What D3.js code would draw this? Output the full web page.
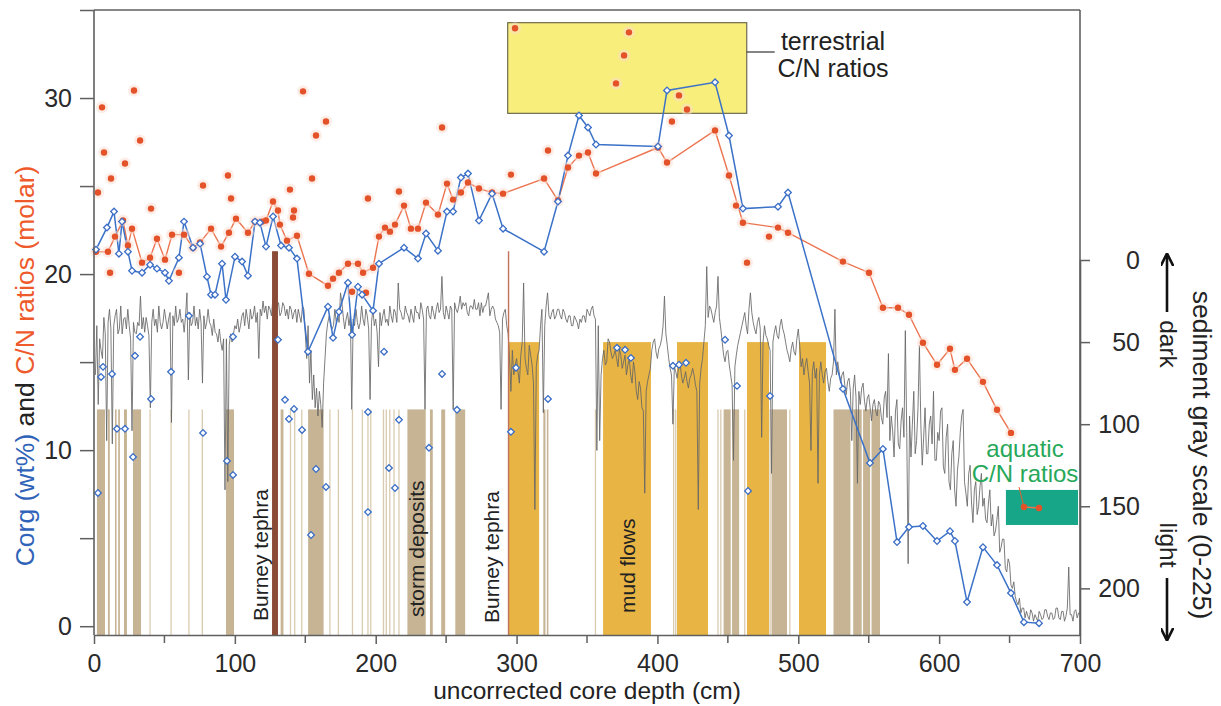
<!DOCTYPE html>
<html><head><meta charset="utf-8">
<script src="https://cdn.jsdelivr.net/npm/d3@7"></script>
<style>
body{margin:0;background:#fff}
svg{display:block}
text{font-family:"Liberation Sans",Arial,Helvetica,sans-serif}
</style>
</head><body>
<svg id="chart" width="1221" height="706"></svg>
<script>
// ---------------- DATA ----------------
const xTickValues = [0,100,200,300,400,500,600,700];
const xMinorTicks = [50,150,250,350,450,550,650];
const leftTickValues = [0,5,10,15,20,25,30,35];
const leftTickLabels = {0:"0",10:"10",20:"20",30:"30"};
const rightTickValues = [0,50,100,150,200];

// C/N ratios (molar), connected series [depth cm, value]
const cnLine = [[1.4,21.27],[9.9,21.27],[14.9,22.13],[20.6,23.04],[24.1,21.62],[27.0,22.58],[34.1,20.65],[39.8,20.93],[44.7,22.01],[50.4,20.82],[55.4,22.24],[63.9,22.24],[70.3,21.5],[75.3,21.79],[83.1,22.58],[90.2,21.56],[95.8,22.35],[100.8,23.15],[109.3,22.35],[114.3,22.98],[119.3,22.98],[122.1,23.04],[127.1,24.12],[130.6,23.61],[132.0,22.81],[137.0,21.9],[144.1,22.18],[152.6,20.02],[166.1,19.34],[169.7,19.74],[173.9,20.08],[180.3,20.59],[187.4,20.59],[191.0,20.08],[198.1,20.36],[202.3,22.13],[206.6,22.64],[210.1,22.41],[213.7,22.81],[220.1,23.89],[225.0,22.58],[230.0,22.58],[235.7,24.06],[244.2,23.38],[250.6,25.14],[254.9,24.23],[260.5,24.63],[265.5,25.2],[273.3,24.86],[282.6,24.63],[290.4,24.57],[319.5,25.43],[329.4,24.18],[336.5,26.05],[344.3,26.73],[350.7,26.91],[356.4,25.71],[400.4,27.19],[406.8,26.34],[440.9,28.16],[450.8,25.6],[460.7,22.92],[485.6,22.64],[492.7,22.35],[531.7,20.71],[550.2,20.08],[560.1,18.09],[570.8,18.09],[578.6,17.69],[588.5,16.1],[598.5,14.85],[607.7,15.76],[611.2,14.56],[619.8,15.19],[631.1,13.88],[641.1,12.29],[651.0,10.98]];
// C/N ratios, isolated samples
const cnScatter = [[2.8,24.63],[5.7,29.47],[7.1,26.91],[12.1,25.43],[11.4,20.08],[22.0,26.28],[28.4,30.43],[32.7,27.59],[40.5,23.72],[60.3,20.08],[77.4,25.03],[95.1,25.6],[97.3,24.29],[139.1,24.8],[142.0,23.61],[148.4,30.38],[157.6,27.87],[164.7,28.67],[154.8,25.43],[141.3,23.21],[183.2,19.0],[193.1,18.94],[194.5,24.29],[216.5,24.69],[247.1,28.33],[296.0,25.65],[322.3,27.02],[298.9,33.96],[379.8,33.73],[376.3,32.42],[370.6,30.83],[415.3,30.15],[421.0,29.35],[410.3,28.67],[455.8,23.89],[479.2,22.13],[463.6,20.65]];
// aquatic reference C/N samples
const cnAquatic = [[660.2,6.77],[670.9,6.71]];

// Corg (wt%), connected series
const corgLine = [[1.4,21.39],[9.2,22.64],[14.2,23.55],[17.7,21.16],[19.9,22.98],[24.1,21.27],[27.0,20.19],[34.1,20.08],[39.8,20.53],[44.7,20.31],[50.4,20.08],[53.2,19.62],[60.3,20.93],[63.9,22.98],[70.3,21.5],[75.3,21.73],[80.2,19.85],[83.1,18.83],[85.9,18.83],[90.9,20.59],[93.7,18.54],[100.1,20.99],[105.1,20.71],[109.3,19.91],[114.3,22.98],[117.8,22.92],[122.1,21.56],[127.1,23.27],[132.8,21.62],[138.4,21.5],[144.1,20.88],[151.9,15.59],[166.1,18.15],[169.7,16.38],[173.9,17.86],[180.3,19.51],[183.2,16.55],[187.4,19.28],[190.3,18.83],[198.1,17.92],[202.3,20.59],[220.1,21.5],[230.0,20.88],[235.7,22.3],[244.2,21.33],[250.6,23.55],[254.9,23.55],[260.5,25.48],[265.5,25.71],[273.3,23.04],[282.6,24.57],[290.4,22.58],[319.5,21.27],[329.4,24.12],[336.5,26.73],[344.3,29.01],[350.7,28.33],[356.4,27.36],[400.4,27.25],[406.8,30.43],[440.9,30.89],[450.8,27.87],[460.7,23.72],[485.6,23.83],[492.7,24.63],[531.7,13.48],[550.9,9.27],[560.1,10.07],[570.1,4.78],[578.6,5.63],[588.5,5.69],[598.5,4.84],[607.7,5.4],[611.2,4.84],[619.8,1.37],[631.1,4.49],[641.1,3.47],[651.0,1.88],[660.2,0.23],[670.9,0.17]];
// Corg, isolated samples
const corgScatter = [[2.8,7.57],[5.0,14.16],[6.4,14.73],[12.8,14.33],[16.3,11.21],[22.0,11.21],[27.7,9.61],[29.1,15.36],[32.7,16.44],[40.5,12.91],[54.7,14.45],[67.4,17.63],[77.4,10.98],[94.4,9.39],[98.7,8.59],[98.7,16.44],[130.6,16.27],[135.6,12.86],[138.4,11.77],[142.0,12.34],[147.7,11.15],[154.1,5.18],[157.6,8.93],[164.7,7.91],[194.5,12.17],[194.5,6.48],[205.9,15.59],[209.4,8.99],[213.7,7.85],[216.5,11.72],[237.8,10.13],[247.1,14.33],[257.7,12.29],[296.0,11.04],[299.6,14.68],[322.3,12.91],[371.3,15.81],[377.0,15.7],[381.2,15.24],[411.0,14.79],[415.3,14.85],[420.3,14.96],[448.0,16.27],[456.5,13.65],[464.3,7.68],[479.9,13.08]];

// sediment gray scale (0-225), one reading per cm starting at 1 cm
const grayFirstDepth = 1, grayStepCm = 1;
const grayScale = [
70,40,88,48,55,60,35,45,110,38, 30,42,112,40,34,30,45,42,28,45, 36,35,42,30,40,48,104,38,44,45,
38,40,22,42,35,44,35,40,46,90, 38,30,40,36,44,28,38,42,38,30, 36,42,36,32,99,34,40,28,38,36,
30,38,36,44,34,20,73,32,40,38, 28,40,35,42,30,38,75,34,42,38, 30,38,40,46,36,44,45,50,42,50,
55,48,140,48,135,52,45,50,45,40, 42,36,44,40,34,32,40,30,36,42, 30,36,34,28,38,32,60,30,34,25,
32,28,36,28,30,34,24,30,32,28, 26,34,32,26,28,34,30,36,28,30, 36,32,30,38,30,34,38,28,30,45,
60,40,75,55,85,70,90,78,95,80, 88,102,75,60,45,38,34,40,42,40, 30,38,34,38,20,26,35,42,36,32,
40,34,91,36,40,30,38,42,38,28, 36,40,30,34,42,85,38,30,40,36, 44,65,32,40,34,30,38,36,40,28,
34,38,30,32,38,14,30,32,36,36, 28,32,34,38,30,34,38,28,32,32, 36,26,30,36,91,30,28,34,36,28,
32,36,30,26,32,30,10,32,36,28, 32,36,28,30,91,26,30,32,28,22, 30,26,28,26,32,34,28,28,30,24,
30,30,26,34,26,32,28,28,24,20, 34,30,28,30,36,38,40,44,91,36, 32,30,40,45,60,80,55,70,64,60,
68,75,58,50,14,60,66,70,52,58, 64,75,152,65,58,55,40,30,93,40, 28,20,34,36,32,30,36,34,30,30,
34,36,30,32,36,38,34,34,40,40, 34,36,38,42,36,38,34,34,38,30, 32,34,30,28,34,36,116,40,110,70,
60,55,64,62,48,50,56,60,58,55, 60,65,54,58,66,62,58,70,64,60, 70,75,62,68,80,85,74,78,90,92,
142,80,74,70,66,55,50,48,56,60, 54,52,48,40,22,45,52,60,66,70, 100,65,68,72,66,62,70,75,72,68,
74,78,72,70,66,70,76,80,152,75, 66,60,50,40,4,35,28,30,34,38, 32,28,10,35,42,50,58,62,56,55,
64,70,76,122,65,58,52,48,44,40, 36,32,40,45,30,20,32,38,42,45, 38,35,42,108,50,40,46,48,52,55,
130,50,44,40,46,48,40,36,42,45, 50,55,58,62,54,50,56,58,48,42, 52,65,60,70,64,60,68,75,116,68,
62,72,66,136,70,62,70,75,68,66, 74,80,72,70,62,30,70,62,68,75, 70,68,76,82,74,72,80,110,78,70,
84,136,80,88,78,75,86,92,84,82, 90,98,88,85,92,95,86,88,96,100, 84,80,96,57,110,95,104,120,92,85,
112,115,98,90,108,43,105,185,95,120, 100,80,118,110,90,52,100,125,108,90, 118,118,100,95,112,80,122,122,105,110,
92,90,126,130,108,100,135,140,118,110, 140,150,128,120,105,95,91,135,142,150, 130,125,148,160,140,135,155,150,138,130,
150,145,158,160,148,140,162,155,168,165, 158,150,178,175,170,170,188,190,182,185, 198,200,196,205,208,210,206,215,212,212,
218,214,217,219,213,215,220,216,218,220, 214,216,219,218,213,213,217,219,215,215, 219,218,212,212,218,219,214,214,220,217,
212,187,216,216,220,214,213,218,215,215];

// storm deposits (depth intervals, cm)
const stormBands = [[2.1,7.8],[9.9,11.2],[14.9,16.0],[17.2,18.4],[21.3,23.4],[27.7,33.4],[93.7,99.4],[132.5,134.5],[152,163],[222.5,235.5],[238.5,240.5],[246.5,249.3],[256.5,263.5],[319,320.5],[321.5,322.6],[447,452],[453,458],[481,492],[525,537],[539,545],[546,551],[552,558]];
const stormLines = [39.8,54.7,67.4,76.9,139.5,142.5,147.5,167.5,173.5,183.5,190.5,194.5,196.5,205.5,207.5,210,213,216.5,356,411.5,413,443,445,462,480,494];
// mud flows (depth intervals, cm)
const mudFlows = [[294,316],[361.4,395.4],[413.9,435.9],[463.6,479.2],[500.5,519.7]];
// Burney tephra layers
const tephra = [[126.4,130.6],[293.8,294.8]];
const tephraTop = 21.3;
const mudTop = 50, stormTop = 91;
// reference ranges
const terrestrialBox = {x0:293.7,x1:463.4,y0:29.13,y1:34.28};
const aquaticBox = {x0:647.4,x1:698.6,y0:5.75,y1:7.74};

// ---------------- DRAWING ----------------
const svg = d3.select("#chart");
const x = d3.scaleLinear().domain([0,700]).range([94,1080]);
const yL = d3.scaleLinear().domain([-0.5,35]).range([635,10]);
const yR = d3.scaleLinear().domain([0,228.4]).range([260,635]);

const gBands = svg.append("g");
gBands.selectAll("line.sl").data(stormLines).join("line")
  .attr("x1",d=>x(d)).attr("x2",d=>x(d)).attr("y1",yR(stormTop)).attr("y2",yR(228.4))
  .attr("stroke","#d9cbb0").attr("stroke-width",1.3);
gBands.selectAll("rect.sb").data(stormBands).join("rect")
  .attr("x",d=>x(d[0])).attr("width",d=>x(d[1])-x(d[0]))
  .attr("y",yR(stormTop)).attr("height",yR(228.4)-yR(stormTop))
  .attr("fill","#c6b494");
gBands.selectAll("rect.mf").data(mudFlows).join("rect")
  .attr("x",d=>x(d[0])).attr("width",d=>x(d[1])-x(d[0]))
  .attr("y",yR(mudTop)).attr("height",yR(228.4)-yR(mudTop))
  .attr("fill","#e8b444");

// gray scale trace
svg.append("path").datum(grayScale)
  .attr("d",d3.line().x((d,i)=>x(grayFirstDepth+i*grayStepCm)).y(d=>yR(d)))
  .attr("fill","none").attr("stroke","#666").attr("stroke-width",0.85);

// tephra
svg.append("rect").attr("x",x(tephra[0][0])).attr("width",x(tephra[0][1])-x(tephra[0][0]))
  .attr("y",yL(tephraTop)).attr("height",yL(-0.5)-yL(tephraTop)).attr("fill","#8a4a36");
svg.append("rect").attr("x",x(tephra[1][0])).attr("width",x(tephra[1][1])-x(tephra[1][0]))
  .attr("y",yL(tephraTop)).attr("height",yL(-0.5)-yL(tephraTop)).attr("fill","#c0735a");

// band labels
function vlabel(px,py,txt){
  svg.append("text").attr("transform",`translate(${px},${py}) rotate(-90)`)
    .attr("font-size",21).attr("fill","#222").text(txt);
}
vlabel(268,621,"Burney tephra");
vlabel(424,617,"storm deposits");
vlabel(499,623,"Burney tephra");
vlabel(635,613,"mud flows");

// reference boxes
svg.append("rect").attr("x",x(terrestrialBox.x0)).attr("width",x(terrestrialBox.x1)-x(terrestrialBox.x0))
  .attr("y",yL(terrestrialBox.y1)).attr("height",yL(terrestrialBox.y0)-yL(terrestrialBox.y1))
  .attr("fill","#f8ee7c").attr("stroke","#6e6a4c").attr("stroke-width",1.2);
svg.append("rect").attr("x",x(aquaticBox.x0)).attr("width",x(aquaticBox.x1)-x(aquaticBox.x0))
  .attr("y",yL(aquaticBox.y1)).attr("height",yL(aquaticBox.y0)-yL(aquaticBox.y1))
  .attr("fill","#17a688");

// annotations
svg.append("line").attr("x1",x(terrestrialBox.x1)).attr("x2",x(terrestrialBox.x1)+28)
  .attr("y1",52).attr("y2",52).attr("stroke","#333").attr("stroke-width",1.2);
svg.append("text").attr("x",833).attr("y",50).attr("text-anchor","middle").attr("font-size",25).attr("fill","#222").text("terrestrial");
svg.append("text").attr("x",833).attr("y",77).attr("text-anchor","middle").attr("font-size",25).attr("fill","#222").text("C/N ratios");
svg.append("text").attr("x",1025).attr("y",457).attr("text-anchor","middle").attr("font-size",24).attr("fill","#27a85a").text("aquatic");
svg.append("text").attr("x",1025).attr("y",482).attr("text-anchor","middle").attr("font-size",24).attr("fill","#27a85a").text("C/N ratios");
svg.append("line").attr("x1",1019).attr("y1",487).attr("x2",x(cnAquatic[0][0])).attr("y2",yL(cnAquatic[0][1]))
  .attr("stroke","#e8602f").attr("stroke-width",1);

// series lines
const lineGen = d3.line().x(d=>x(d[0])).y(d=>yL(d[1]));
svg.append("path").datum(cnLine).attr("d",lineGen).attr("fill","none").attr("stroke","#ec7450").attr("stroke-width",1.4);
svg.append("path").datum(cnAquatic).attr("d",lineGen).attr("fill","none").attr("stroke","#ec7450").attr("stroke-width",1.4);
svg.append("path").datum(corgLine).attr("d",lineGen).attr("fill","none").attr("stroke","#3b72c8").attr("stroke-width",1.5);

// orange markers
const cnMain = cnLine.concat(cnScatter);
svg.append("g").selectAll("circle").data(cnMain).join("circle")
  .attr("cx",d=>x(d[0])).attr("cy",d=>yL(d[1])).attr("r",6).attr("fill","#fbdcd0").attr("opacity",0.5);
svg.append("g").selectAll("circle").data(cnMain.concat(cnAquatic)).join("circle")
  .attr("cx",d=>x(d[0])).attr("cy",d=>yL(d[1])).attr("r",3.2).attr("fill","#e4522a");

// blue open diamonds
const diamond = d3.symbol().type(d3.symbolSquare).size(22);
const corgAll = corgLine.concat(corgScatter);
svg.append("g").selectAll("path").data(corgAll).join("path")
  .attr("transform",d=>`translate(${x(d[0])},${yL(d[1])}) rotate(45)`).attr("d",diamond)
  .attr("fill","#fff").attr("stroke","#3b6ec6").attr("stroke-width",1.3);

// ---------------- AXES ----------------
const axisColor = "#5f5f5f";
svg.append("line").attr("x1",x(0)).attr("x2",x(700)).attr("y1",10).attr("y2",10).attr("stroke",axisColor).attr("stroke-width",1.6);

const axL = svg.append("g").attr("transform",`translate(${x(0)},0)`)
  .call(d3.axisLeft(yL).tickValues(leftTickValues).tickSize(14).tickSizeOuter(0).tickPadding(8)
    .tickFormat(d=>leftTickLabels[d]||""));
const axB = svg.append("g").attr("transform",`translate(0,${yL(-0.5)})`)
  .call(d3.axisBottom(x).tickValues(xTickValues).tickSize(9).tickSizeOuter(0).tickPadding(10).tickFormat(d3.format("d")));
svg.append("g").attr("transform",`translate(0,${yL(-0.5)})`)
  .selectAll("line").data(xMinorTicks).join("line")
  .attr("x1",d=>x(d)).attr("x2",d=>x(d)).attr("y1",0).attr("y2",8).attr("stroke",axisColor).attr("stroke-width",1.5);
const axR = svg.append("g").attr("transform",`translate(${x(700)},0)`)
  .call(d3.axisRight(yR).tickValues(rightTickValues).tickSize(10).tickSizeOuter(0).tickPadding(50));
svg.append("line").attr("x1",x(700)).attr("x2",x(700)).attr("y1",10).attr("y2",635).attr("stroke",axisColor).attr("stroke-width",1.6);

[axL,axB,axR].forEach(a=>{
  a.select(".domain").attr("stroke",axisColor).attr("stroke-width",1.6);
  a.selectAll(".tick line").attr("stroke",axisColor).attr("stroke-width",1.5);
  a.selectAll(".tick text").attr("font-size",25).attr("fill","#2a2a2a")
    .attr("font-family",'"Liberation Sans",Arial,sans-serif');
});
axR.selectAll(".tick text").attr("text-anchor","end");
axL.select(".domain").attr("d","M0,10V635");

// axis titles
svg.append("text").attr("x",587).attr("y",699).attr("text-anchor","middle").attr("font-size",24.5).attr("fill","#222").text("uncorrected core depth (cm)");
const lt = svg.append("text").attr("transform","translate(34,366) rotate(-90)").attr("text-anchor","middle").attr("font-size",26.5);
lt.append("tspan").attr("fill","#2f63b8").text("Corg (wt%)");
lt.append("tspan").attr("fill","#222").text(" and ");
lt.append("tspan").attr("fill","#ee5a2c").text("C/N ratios (molar)");
svg.append("text").attr("transform","translate(1193,455) rotate(90)").attr("text-anchor","middle").attr("font-size",26.5).attr("fill","#222").text("sediment gray scale (0-225)");
svg.append("text").attr("transform","translate(1160,344) rotate(90)").attr("text-anchor","middle").attr("font-size",24.5).attr("fill","#222").text("dark");
svg.append("text").attr("transform","translate(1160,545) rotate(90)").attr("text-anchor","middle").attr("font-size",24.5).attr("fill","#222").text("light");

// arrows
const defs = svg.append("defs");
defs.append("marker").attr("id","ah").attr("viewBox","0 0 10 10").attr("refX",8).attr("refY",5)
  .attr("markerWidth",5).attr("markerHeight",5).attr("orient","auto")
  .append("path").attr("d","M0,0L10,5L0,10").attr("fill","none").attr("stroke","#111").attr("stroke-width",2);
svg.append("line").attr("x1",1167).attr("y1",312).attr("x2",1167).attr("y2",256).attr("stroke","#111").attr("stroke-width",2.6).attr("marker-end","url(#ah)");
svg.append("line").attr("x1",1167).attr("y1",578).attr("x2",1167).attr("y2",638).attr("stroke","#111").attr("stroke-width",2.6).attr("marker-end","url(#ah)");
</script>
</body></html>
